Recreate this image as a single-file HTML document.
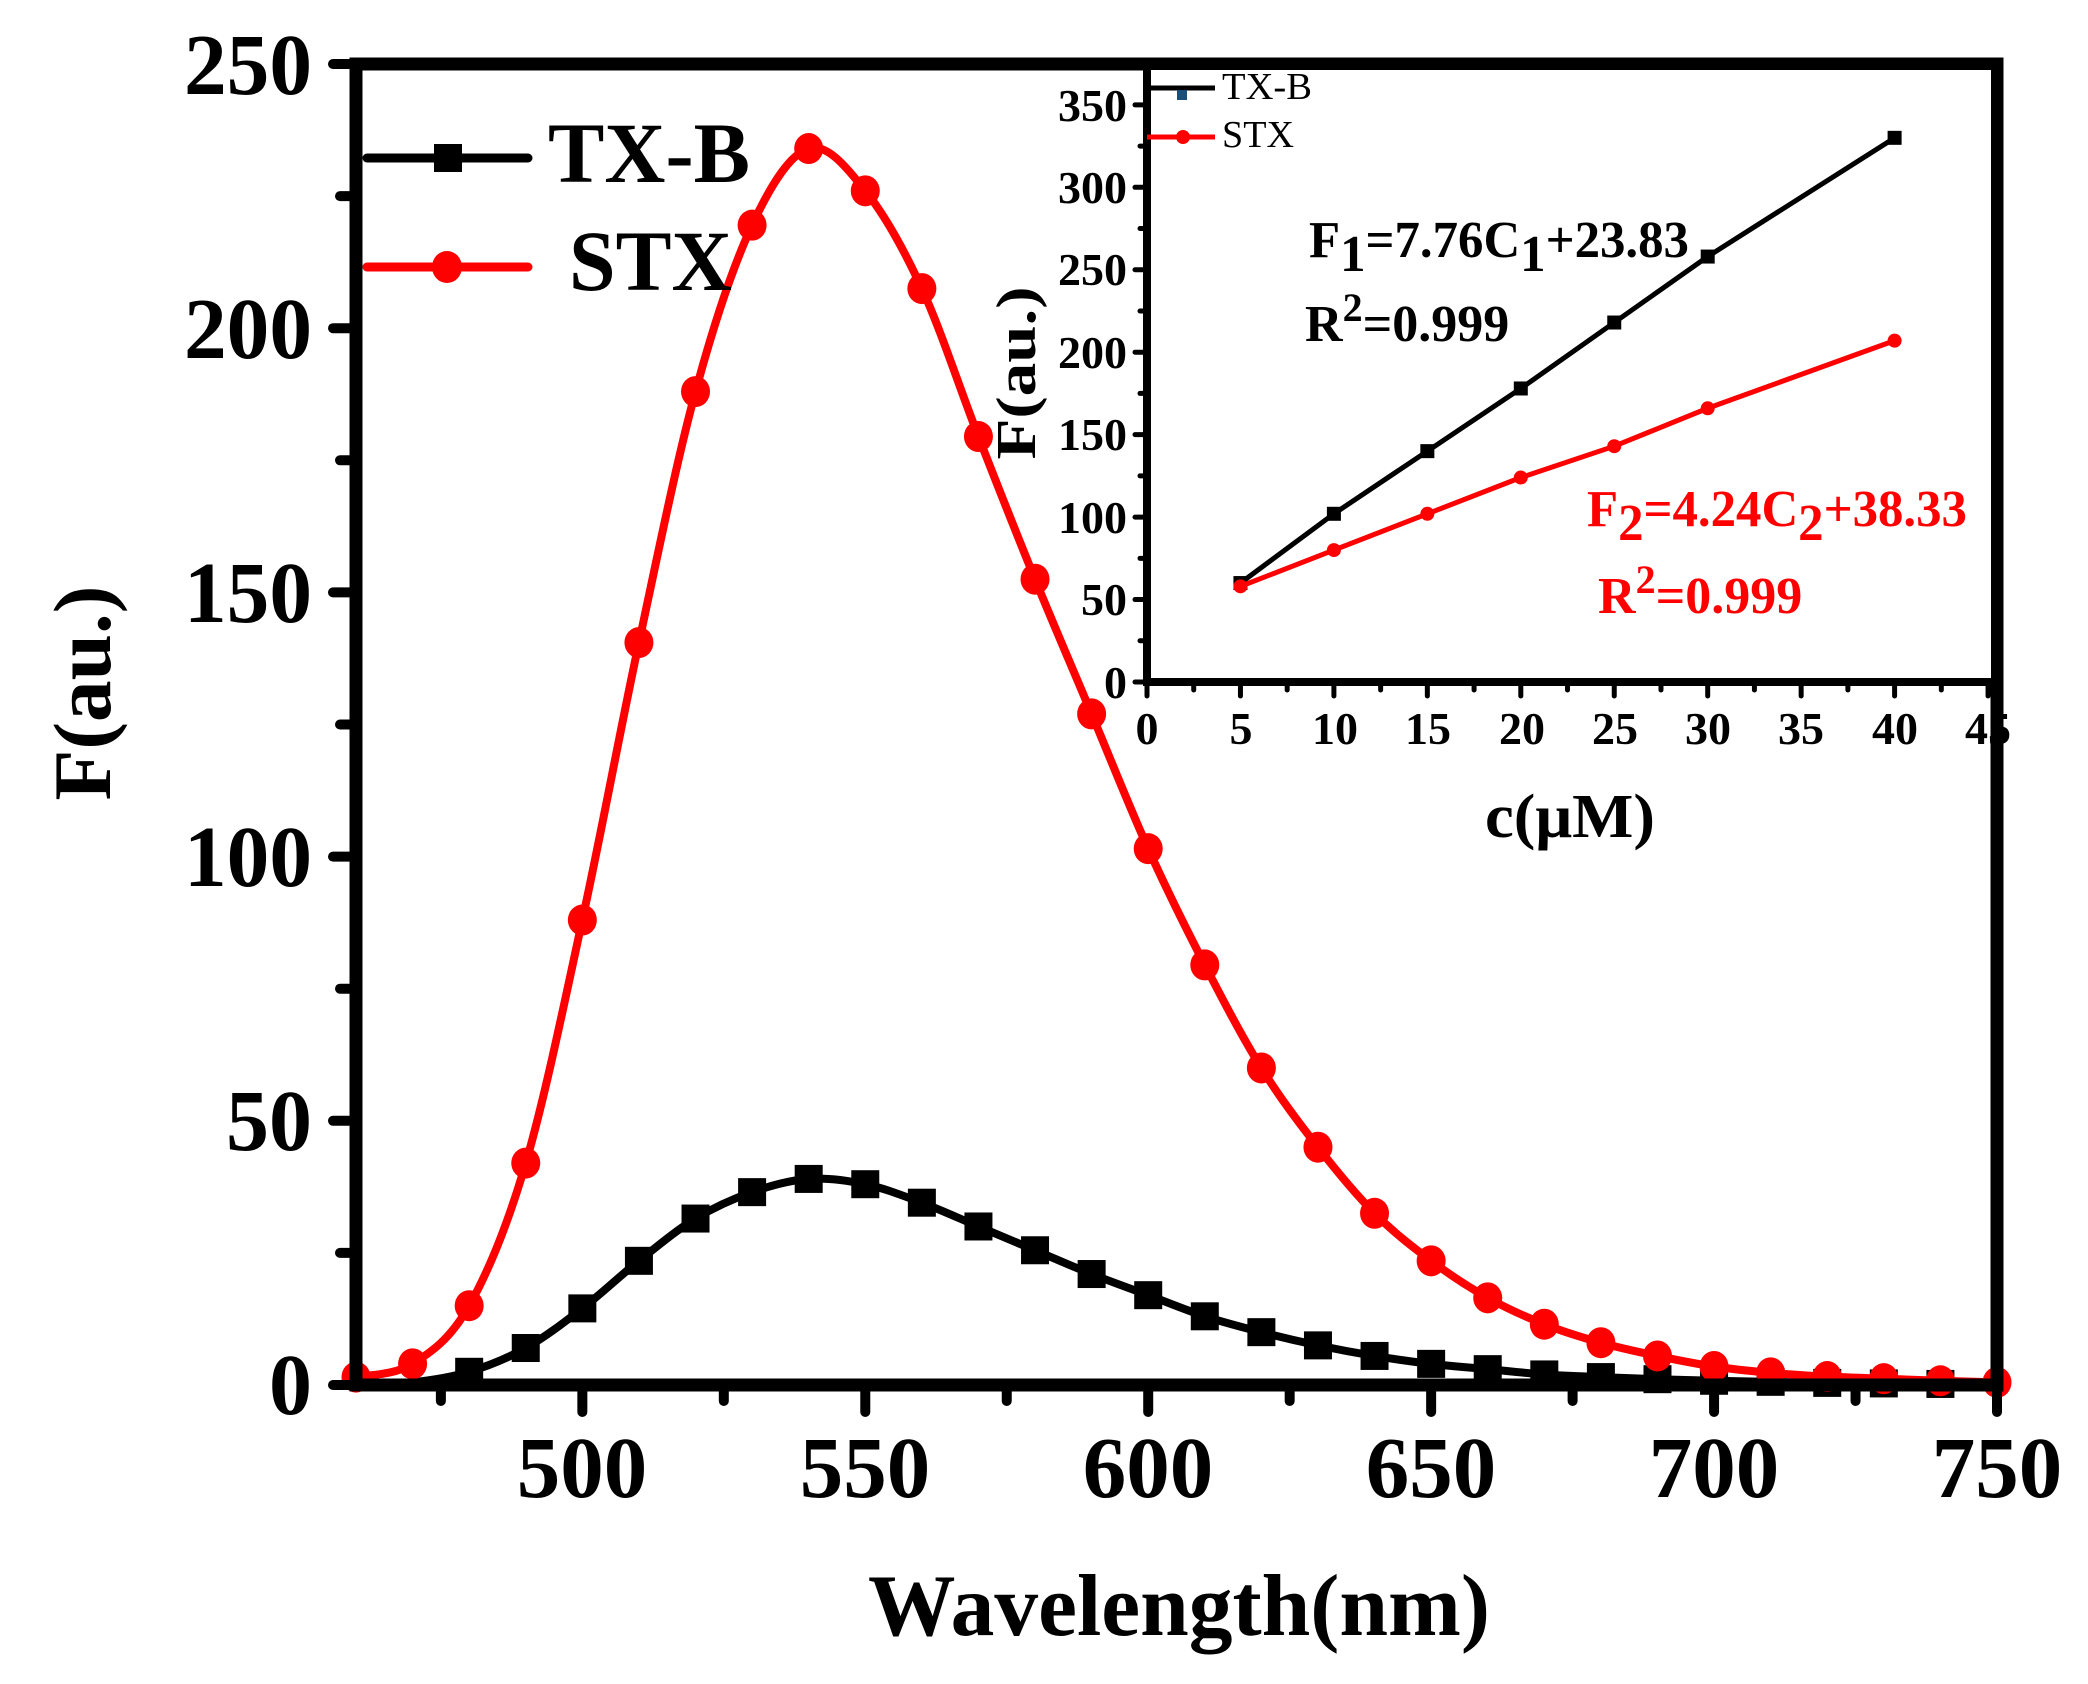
<!DOCTYPE html>
<html><head><meta charset="utf-8"><style>
html,body{margin:0;padding:0;background:#fff;}
svg{display:block;font-family:"Liberation Serif",serif;font-weight:bold;}
</style></head><body>
<svg id="s" width="2088" height="1684" viewBox="0 0 2088 1684" xmlns="http://www.w3.org/2000/svg">
<rect width="2088" height="1684" fill="#fff"/>
<g id="main"></g>
<path d="M356 64 H1997 V1385 H356 Z" fill="none" stroke="#000" stroke-width="13"/>
<g id="mticks" stroke="#000" stroke-linecap="round"></g>
<g font-size="87" text-anchor="end" fill="#000">
<text x="312" y="94" textLength="128" lengthAdjust="spacingAndGlyphs">250</text>
<text x="312" y="358" textLength="128" lengthAdjust="spacingAndGlyphs">200</text>
<text x="312" y="622" textLength="128" lengthAdjust="spacingAndGlyphs">150</text>
<text x="312" y="886" textLength="128" lengthAdjust="spacingAndGlyphs">100</text>
<text x="312" y="1150" textLength="86" lengthAdjust="spacingAndGlyphs">50</text>
<text x="312" y="1414" textLength="43" lengthAdjust="spacingAndGlyphs">0</text>
</g>
<g font-size="87" text-anchor="middle" fill="#000">
<text x="582" y="1497">500</text>
<text x="865" y="1497">550</text>
<text x="1148" y="1497">600</text>
<text x="1431" y="1497">650</text>
<text x="1714" y="1497">700</text>
<text x="1997" y="1497">750</text>
</g>
<text x="868" y="1635" font-size="88" textLength="622" lengthAdjust="spacingAndGlyphs">Wavelength(nm)</text>
<text transform="translate(110,693) rotate(-90)" font-size="82" text-anchor="middle" textLength="215" lengthAdjust="spacingAndGlyphs">F(au.)</text>
<line x1="367" y1="158" x2="528" y2="158" stroke="#000" stroke-width="9" stroke-linecap="round"/>
<rect x="434" y="144" width="28" height="28" fill="#000"/>
<text x="548" y="182" font-size="86" textLength="202" lengthAdjust="spacingAndGlyphs">TX-B</text>
<line x1="367" y1="267" x2="528" y2="267" stroke="#f00" stroke-width="9" stroke-linecap="round"/>
<ellipse cx="447" cy="267" rx="15" ry="16" fill="#f00"/>
<text x="569" y="290" font-size="86" textLength="163" lengthAdjust="spacingAndGlyphs">STX</text>
<rect x="1147" y="70" width="844" height="612" fill="#fff"/>
<path d="M1147 64 V682 H1991" fill="none" stroke="#000" stroke-width="8"/>
<g id="iticks" stroke="#000" stroke-linecap="round"></g>
<g id="inset"></g>
<g font-size="46" text-anchor="end" fill="#000">
<text x="1127" y="121">350</text>
<text x="1127" y="203">300</text>
<text x="1127" y="285">250</text>
<text x="1127" y="368">200</text>
<text x="1127" y="450">150</text>
<text x="1127" y="533">100</text>
<text x="1127" y="615">50</text>
<text x="1127" y="698">0</text>
</g>
<g font-size="46" text-anchor="middle" fill="#000">
<text x="1147" y="744">0</text>
<text x="1241" y="744">5</text>
<text x="1335" y="744">10</text>
<text x="1428" y="744">15</text>
<text x="1522" y="744">20</text>
<text x="1615" y="744">25</text>
<text x="1708" y="744">30</text>
<text x="1801" y="744">35</text>
<text x="1895" y="744">40</text>
<text x="1988" y="744">45</text>
</g>
<text x="1485" y="837" font-size="62" textLength="170" lengthAdjust="spacingAndGlyphs">c(μM)</text>
<text transform="translate(1035,373) rotate(-90)" font-size="56" text-anchor="middle" textLength="173" lengthAdjust="spacingAndGlyphs">F(au.)</text>
<line x1="1150" y1="88" x2="1215" y2="88" stroke="#000" stroke-width="5"/>
<rect x="1177" y="90" width="10" height="10" fill="#1a4f7a"/>
<text x="1222" y="99" font-size="38" font-weight="normal" textLength="90" lengthAdjust="spacingAndGlyphs">TX-B</text>
<line x1="1147" y1="137" x2="1215" y2="137" stroke="#f00" stroke-width="5"/>
<circle cx="1183" cy="137" r="7" fill="#f00"/>
<text x="1222" y="147" font-size="38" font-weight="normal" textLength="72" lengthAdjust="spacingAndGlyphs">STX</text>
<text x="1309" y="257" font-size="52" fill="#000" textLength="380" lengthAdjust="spacingAndGlyphs">F<tspan dy="14">1</tspan><tspan dy="-14">=7.76C</tspan><tspan dy="14">1</tspan><tspan dy="-14">+23.83</tspan></text>
<text x="1305" y="341" font-size="52" fill="#000">R<tspan dy="-20" font-size="40">2</tspan><tspan dy="20">=0.999</tspan></text>
<text x="1587" y="526" font-size="52" fill="#f00" textLength="380" lengthAdjust="spacingAndGlyphs">F<tspan dy="14">2</tspan><tspan dy="-14">=4.24C</tspan><tspan dy="14">2</tspan><tspan dy="-14">+38.33</tspan></text>
<text x="1598" y="613" font-size="52" fill="#f00">R<tspan dy="-20" font-size="40">2</tspan><tspan dy="20">=0.999</tspan></text>
</svg>
<script>
var NS="http://www.w3.org/2000/svg";
function el(p,t,a){var e=document.createElementNS(NS,t);for(var k in a)e.setAttribute(k,a[k]);p.appendChild(e);return e;}
function X(w){return 356+(w-460)*(1641/290);}
function Y(v){return 1385-v*5.284;}
var tx={470:0.5,480:2.5,490:7,500:14.5,510:23.5,520:31.5,530:36.5,540:39,550:38,560:34.5,570:30,580:25.5,590:21,600:17,610:13,620:10,630:7.5,640:5.5,650:4,660:3,670:2,680:1.5,690:1.1,700:0.8,710:0.6,720:0.4,730:0.3,740:0.2,750:0.15};
var st={460:1.5,470:4,480:15,490:42,500:88,510:140.5,520:188,530:219.5,540:234,550:226,560:207.5,570:179.5,580:152.5,590:127,600:101.5,610:79.5,620:60,630:45,640:32.5,650:23.5,660:16.5,670:11.5,680:8,690:5.5,700:3.5,710:2.3,720:1.6,730:1.2,740:0.8,750:0.5};
function pts(o){var r=[];for(var k in o)r.push([X(+k),Y(o[k])]);r.sort(function(a,b){return a[0]-b[0]});return r;}
function smooth(p){var d="M"+p[0][0]+" "+p[0][1];for(var i=0;i<p.length-1;i++){var p0=p[i-1]||p[i],p1=p[i],p2=p[i+1],p3=p[i+2]||p2;
d+=" C"+(p1[0]+(p2[0]-p0[0])/6)+" "+(p1[1]+(p2[1]-p0[1])/6)+" "+(p2[0]-(p3[0]-p1[0])/6)+" "+(p2[1]-(p3[1]-p1[1])/6)+" "+p2[0]+" "+p2[1];}return d;}
var g=document.getElementById("main");
var pt=pts(tx);pt.unshift([X(460),Y(0)]);
el(g,"path",{d:smooth(pt),fill:"none",stroke:"#000","stroke-width":8});
pt.forEach(function(p,i){if(i>1&&p[0]<1990)el(g,"rect",{x:p[0]-14,y:p[1]-14,width:28,height:28,fill:"#000"});});
var ps=pts(st);
el(g,"path",{d:smooth(ps),fill:"none",stroke:"#f00","stroke-width":8});
ps.forEach(function(p){el(g,"ellipse",{cx:p[0],cy:p[1],rx:14.5,ry:15.5,fill:"#f00"});});
var mt=document.getElementById("mticks");
for(var v=0;v<=250;v+=25){var y=Y(v);el(mt,"line",{x1:356,x2:v%50?340:333,y1:y,y2:y,"stroke-width":10});}
for(var w=475;w<=750;w+=25){var x=X(w);el(mt,"line",{x1:x,x2:x,y1:1385,y2:w%50?1401:1412,"stroke-width":10});}
function IX(c){return 1147+c*18.69;}function IY(v){return 682-v*1.649;}
var it=document.getElementById("iticks");
for(var v=0;v<=350;v+=25){var y=IY(v);el(it,"line",{x1:1147,x2:v%50?1140:1135,y1:y,y2:y,"stroke-width":5});}
for(var c=0;c<=45;c+=2.5){var x=IX(c);el(it,"line",{x1:x,x2:x,y1:682,y2:c%5?690:696,"stroke-width":5});}
var ig=document.getElementById("inset");
var a=[[5,60],[10,102],[15,140],[20,178],[25,218],[30,258],[40,330]],b=[[5,58],[10,80],[15,102],[20,124],[25,143],[30,166],[40,207]];
el(ig,"polyline",{points:a.map(function(p){return IX(p[0])+","+IY(p[1])}).join(" "),fill:"none",stroke:"#000","stroke-width":5});
a.forEach(function(p){el(ig,"rect",{x:IX(p[0])-7,y:IY(p[1])-7,width:14,height:14,fill:"#000"});});
el(ig,"polyline",{points:b.map(function(p){return IX(p[0])+","+IY(p[1])}).join(" "),fill:"none",stroke:"#f00","stroke-width":5});
b.forEach(function(p){el(ig,"circle",{cx:IX(p[0]),cy:IY(p[1]),r:7,fill:"#f00"});});
</script>
</body></html>
